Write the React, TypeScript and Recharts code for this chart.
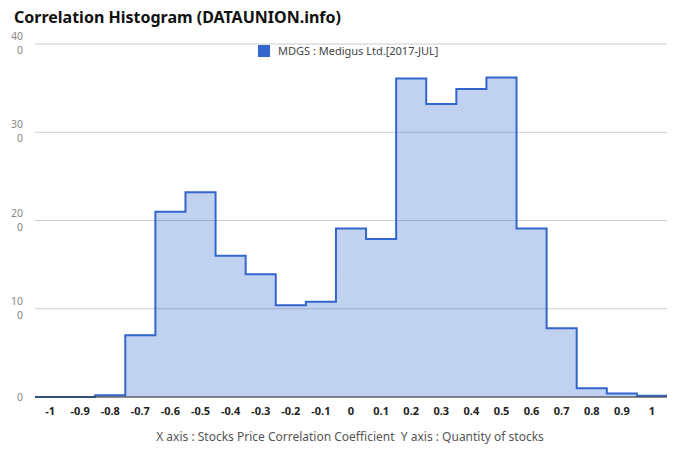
import React from "react";
import {
  AreaChart,
  Area,
  XAxis,
  YAxis,
  CartesianGrid,
} from "recharts";

// histogram bins (left edge of each bin) and counts
const binStarts = [
  -1.05, -0.95, -0.85, -0.75, -0.65, -0.55, -0.45, -0.35, -0.25, -0.15, -0.05,
  0.05, 0.15, 0.25, 0.35, 0.45, 0.55, 0.65, 0.75, 0.85, 0.95,
];
const counts = [
  0, 0, 2, 70, 210, 232, 160, 139, 104, 108, 191,
  179, 361, 332, 349, 362, 191, 78, 10, 4, 1.5,
];
const xTicks = [-1, -0.9, -0.8, -0.7, -0.6, -0.5, -0.4, -0.3, -0.2, -0.1, 0, 0.1, 0.2, 0.3, 0.4, 0.5, 0.6, 0.7, 0.8, 0.9, 1];
const yTicks = [0, 100, 200, 300, 400];

const seriesName = "MDGS : Medigus Ltd.[2017-JUL]";

const data = binStarts.map((x, i) => ({ x, count: counts[i] }));
data.push({ x: 1.05, count: counts[counts.length - 1] });

const FONT = "'Noto Sans', 'Open Sans', sans-serif";

// labels are wrapped in the original ("40" / "0")
const YTick = (props: any) => {
  const { x, y, payload } = props;
  const s = String(payload.value);
  const style = { fill: "#888", fontSize: 10.5, fontFamily: FONT };
  if (s.length <= 2) {
    return <text x={x - 4} y={y + 4} textAnchor="end" {...style}>{s}</text>;
  }
  return (
    <g>
      <text x={x - 4} y={y - 4} textAnchor="end" {...style}>{s.slice(0, 2)}</text>
      <text x={x - 4} y={y + 10} textAnchor="end" {...style}>{s.slice(2)}</text>
    </g>
  );
};

export default function App() {
  return (
    <div style={{ position: "absolute", left: 0, top: 0, width: 680, height: 462, background: "#fff" }}>
      <div style={{ position: "absolute", left: 14, top: 6, fontFamily: FONT, fontWeight: "bold", fontSize: 16, color: "#111" }}>
        Correlation Histogram (DATAUNION.info)
      </div>
      <AreaChart width={680} height={462} data={data} margin={{ top: 44, right: 13, left: 0, bottom: 35 }}>
        <CartesianGrid vertical={false} stroke="#ccc" />
        <XAxis
          dataKey="x"
          type="number"
          domain={[-1.05, 1.05]}
          ticks={xTicks}
          interval={0}
          height={30}
          axisLine={{ stroke: "#333" }}
          tickLine={false}
          tick={{ fill: "#222", fontSize: 11, fontWeight: "bold", fontFamily: FONT }}
          tickMargin={4}
        />
        <YAxis
          width={35}
          domain={[0, 400]}
          ticks={yTicks}
          axisLine={false}
          tickLine={false}
          tick={<YTick />}
        />
        <Area
          type="stepAfter"
          dataKey="count"
          name={seriesName}
          stroke="#3366cc"
          strokeWidth={2}
          fill="#3366cc"
          fillOpacity={0.3}
          isAnimationActive={false}
          dot={false}
        />
      </AreaChart>
      <div style={{ position: "absolute", left: 258, top: 43, display: "flex", alignItems: "center", fontFamily: FONT, fontSize: 11, color: "#444" }}>
        <span style={{ display: "inline-block", width: 12, height: 12, background: "#3366cc", marginRight: 8 }} />
        <span>{seriesName}</span>
      </div>
      <div style={{ position: "absolute", left: 0, width: 700, top: 428, textAlign: "center", fontFamily: FONT, fontSize: 12, color: "#555", whiteSpace: "pre" }}>
        {"X axis : Stocks Price Correlation Coefficient  Y axis : Quantity of stocks"}
      </div>
    </div>
  );
}
